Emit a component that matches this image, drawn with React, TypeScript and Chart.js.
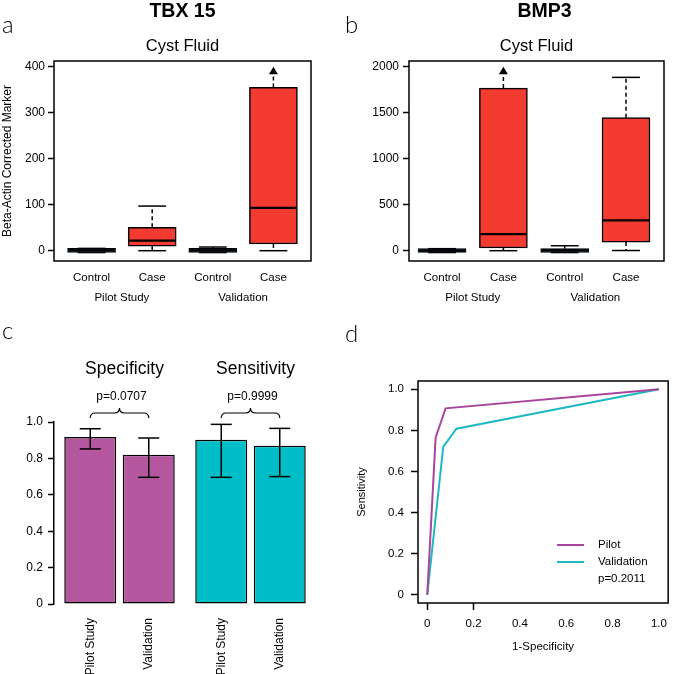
import React, { useEffect, useRef } from 'react';
import { Chart, registerables } from 'chart.js';

Chart.register(...registerables);

const FONT = "'Liberation Sans', Arial, Helvetica, sans-serif";
const LETTER_FONT = "300 24px Lato, 'Liberation Sans', Arial, sans-serif";
Chart.defaults.font.family = FONT;
Chart.defaults.color = '#000';

// ---------------- data: panels a & b (box plots) ----------------
const boxCategories = ['Control', 'Case', 'Control', 'Case'];
const boxGroups = ['Pilot Study', 'Validation'];
const boxPositions = [1, 2, 3, 4];

// TBX 15 (values above the top tick run off the axis and end in an arrow)
const tbxLow = [-4, 0, -4, 0];
const tbxQ1 = [-4, 10, -4, 14.5];
const tbxMedian = [0.5, 22, 0.5, 93];
const tbxQ3 = [5, 51, 5, 355];
const tbxHigh = [5, 97, 8, 460];
const tbxTicks = [0, 100, 200, 300, 400];

// BMP3
const bmpLow = [-20, 0, -20, 2];
const bmpQ1 = [-20, 29, -20, 94];
const bmpMedian = [0, 181, 3, 330];
const bmpQ3 = [22, 1768, 22, 1446];
const bmpHigh = [22, 2300, 54, 1884];
const bmpTicks = [0, 500, 1000, 1500, 2000];

// ---------------- data: panel c (bars) ----------------
const rateCategories = ['Specificity', 'Sensitivity'];
const cohortLabels = ['Pilot Study', 'Validation'];
const pilotRate = [0.918, 0.903];
const pilotLow = [0.852, 0.696];
const pilotHigh = [0.963, 0.987];
const validationRate = [0.82, 0.87];
const validationLow = [0.696, 0.7];
const validationHigh = [0.912, 0.965];
const rateP = ['p=0.0707', 'p=0.9999'];
const rateTicks = [0, 0.2, 0.4, 0.6, 0.8, 1.0];

// ---------------- data: panel d (ROC) ----------------
const rocLabels = ['Pilot', 'Validation'];
const pilotFpr = [0, 0.036, 0.079, 1];
const pilotTpr = [0, 0.764, 0.907, 1];
const validationFpr = [0, 0.069, 0.126, 1];
const validationTpr = [0, 0.719, 0.808, 1];
const rocP = 'p=0.2011';
const rocTicks = [0, 0.2, 0.4, 0.6, 0.8, 1.0];
const rocMarkedTicks = [0, 0.2];

// ---------------- colours ----------------
const RED = '#F43B31';
const NAVY = '#1C3B5A';
const BAR_PURPLE = '#B5579F';
const BAR_CYAN = '#00BEC7';
const LINE_PURPLE = '#A8449C';
const LINE_CYAN = '#1EB8C2';

const fmt1 = (v: number) => (v === 0 ? '0' : Number(v).toFixed(1));

function drawText(ctx: CanvasRenderingContext2D, s: string, x: number, y: number, font: string, align: CanvasTextAlign = 'center', baseline: CanvasTextBaseline = 'alphabetic') {
  ctx.save();
  ctx.font = font;
  ctx.fillStyle = '#000';
  ctx.textAlign = align;
  ctx.textBaseline = baseline;
  ctx.fillText(s, x, y);
  ctx.restore();
}

function line(ctx: CanvasRenderingContext2D, x1: number, y1: number, x2: number, y2: number) {
  ctx.beginPath();
  ctx.moveTo(x1, y1);
  ctx.lineTo(x2, y2);
  ctx.stroke();
}

type BoxSpec = {
  letter: string;
  letterX: number;
  title: string;
  titleX: number;
  low: number[];
  q1: number[];
  median: number[];
  q3: number[];
  high: number[];
  ticks: number[];
};

function boxExtras(spec: BoxSpec) {
  return {
    id: 'boxExtras',
    afterDatasetsDraw(chart: any) {
      const { ctx } = chart;
      const y = chart.scales.y;
      const meta = chart.getDatasetMeta(0);
      const topTick = spec.ticks[spec.ticks.length - 1];
      ctx.save();
      ctx.strokeStyle = '#000';
      ctx.fillStyle = '#000';
      spec.median.forEach((m: number, i: number) => {
        const el = meta.data[i];
        const cx = el.x;
        const half = el.width / 2;
        const staple = half * 0.58;
        ctx.setLineDash([]);
        ctx.lineWidth = 2.2;
        const ym = y.getPixelForValue(m);
        line(ctx, cx - half + 1, ym, cx + half - 1, ym);
        ctx.lineWidth = 1.5;
        const yq3 = y.getPixelForValue(spec.q3[i]);
        const yq1 = y.getPixelForValue(spec.q1[i]);
        if (spec.high[i] > topTick) {
          const tip = y.getPixelForValue(topTick);
          ctx.setLineDash([4, 3]);
          line(ctx, cx, yq3, cx, tip + 9);
          ctx.setLineDash([]);
          ctx.beginPath();
          ctx.moveTo(cx, tip);
          ctx.lineTo(cx - 4.5, tip + 7.5);
          ctx.lineTo(cx + 4.5, tip + 7.5);
          ctx.closePath();
          ctx.fill();
        } else {
          const yh = y.getPixelForValue(spec.high[i]);
          if (spec.high[i] > spec.q3[i]) {
            ctx.setLineDash([4, 3]);
            line(ctx, cx, yq3, cx, yh);
          }
          ctx.setLineDash([]);
          line(ctx, cx - staple, yh, cx + staple, yh);
        }
        const yl = y.getPixelForValue(spec.low[i]);
        if (spec.low[i] < spec.q1[i]) {
          ctx.setLineDash([4, 3]);
          line(ctx, cx, yq1, cx, yl);
        }
        ctx.setLineDash([]);
        line(ctx, cx - staple, yl, cx + staple, yl);
      });
      ctx.restore();
    },
    afterDraw(chart: any) {
      const { ctx, chartArea: ca } = chart;
      const x = chart.scales.x;
      ctx.save();
      ctx.strokeStyle = '#000';
      ctx.lineWidth = 1.5;
      ctx.strokeRect(ca.left, ca.top, ca.right - ca.left, ca.bottom - ca.top);
      ctx.restore();
      drawText(ctx, spec.letter, spec.letterX, 33, LETTER_FONT, 'left');
      drawText(ctx, spec.title, spec.titleX, 17, `bold 19.5px ${FONT}`);
      drawText(ctx, 'Cyst Fluid', (ca.left + ca.right) / 2, 51, `16.5px ${FONT}`);
      boxGroups.forEach((g, gi) => {
        const a = x.getPixelForValue(boxPositions[gi * 2]);
        const b = x.getPixelForValue(boxPositions[gi * 2 + 1]);
        drawText(ctx, g, (a + b) / 2, 298, `11.5px ${FONT}`, 'center', 'middle');
      });
    },
  };
}

function makeBoxChart(canvas: HTMLCanvasElement, spec: BoxSpec, opts: { padLeft: number; padRight: number; yWidth: number; xMin: number; xMax: number; yMin: number; yMax: number; yTitle?: string; tickPad: number }) {
  const colors = boxCategories.map((c) => (c === 'Control' ? NAVY : RED));
  const widths = boxCategories.map((c) => (c === 'Control' ? 1 : 1.5));
  return new Chart(canvas, {
    type: 'bar',
    data: {
      datasets: [
        {
          data: boxPositions.map((p, i) => ({ x: p, y: [spec.q1[i], spec.q3[i]] })) as any,
          backgroundColor: colors,
          borderColor: '#000',
          borderWidth: widths,
          borderSkipped: false,
          barThickness: 48,
        } as any,
      ],
    },
    options: {
      responsive: false,
      animation: false,
      devicePixelRatio: 1,
      events: [],
      layout: { padding: { left: opts.padLeft, top: 61, right: opts.padRight, bottom: 363 } },
      plugins: { legend: { display: false }, tooltip: { enabled: false } },
      scales: {
        x: {
          type: 'linear',
          min: opts.xMin,
          max: opts.xMax,
          offset: false,
          grid: { display: false, drawTicks: false },
          border: { display: false },
          afterBuildTicks: (s: any) => {
            s.ticks = boxPositions.map((v) => ({ value: v }));
          },
          afterFit: (s: any) => {
            s.height = 50;
          },
          ticks: {
            autoSkip: false,
            maxRotation: 0,
            minRotation: 0,
            padding: 10,
            font: { size: 11.5 },
            color: '#000',
            callback: (_v: any, i: number) => boxCategories[i],
          },
        } as any,
        y: {
          type: 'linear',
          min: opts.yMin,
          max: opts.yMax,
          afterBuildTicks: (s: any) => {
            s.ticks = spec.ticks.map((v) => ({ value: v }));
          },
          afterFit: (s: any) => {
            s.width = opts.yWidth;
          },
          grid: { drawOnChartArea: false, drawTicks: true, tickLength: 6, tickColor: '#000', tickWidth: 1.5 },
          border: { display: false },
          ticks: { padding: opts.tickPad, font: { size: 12 }, color: '#000', callback: (v: any) => String(v) },
          title: {
            display: !!opts.yTitle,
            text: opts.yTitle || '',
            font: { size: 12 },
            color: '#000',
            padding: 0,
          },
        } as any,
      },
    },
    plugins: [boxExtras(spec) as any],
  });
}

const rateExtras = {
  id: 'rateExtras',
  afterDatasetsDraw(chart: any) {
    const { ctx } = chart;
    const y = chart.scales.y;
    const lows = [pilotLow, validationLow];
    const highs = [pilotHigh, validationHigh];
    ctx.save();
    ctx.strokeStyle = '#000';
    ctx.lineWidth = 1.5;
    [0, 1].forEach((d) => {
      const meta = chart.getDatasetMeta(d);
      meta.data.forEach((el: any, j: number) => {
        const yl = y.getPixelForValue(lows[d][j]);
        const yh = y.getPixelForValue(highs[d][j]);
        line(ctx, el.x, yl, el.x, yh);
        line(ctx, el.x - 10.5, yl, el.x + 10.5, yl);
        line(ctx, el.x - 10.5, yh, el.x + 10.5, yh);
      });
    });
    ctx.restore();
  },
  afterDraw(chart: any) {
    const { ctx } = chart;
    const m0 = chart.getDatasetMeta(0);
    const m1 = chart.getDatasetMeta(1);
    drawText(ctx, 'c', 2, 339, LETTER_FONT, 'left');
    rateCategories.forEach((cat, j) => {
      const x1 = m0.data[j].x;
      const x2 = m1.data[j].x;
      const xm = (x1 + x2) / 2;
      drawText(ctx, cat, xm + 5, 374, `17.5px ${FONT}`);
      drawText(ctx, rateP[j], xm + 2, 397, `12px ${FONT}`, 'center', 'middle');
      // curly brace
      const yb = 418;
      const yh = 413;
      const yt = 408;
      ctx.save();
      ctx.strokeStyle = '#000';
      ctx.lineWidth = 1.2;
      ctx.beginPath();
      ctx.moveTo(x1, yb);
      ctx.quadraticCurveTo(x1, yh, x1 + 5, yh);
      ctx.lineTo(xm - 5, yh);
      ctx.quadraticCurveTo(xm, yh, xm, yt);
      ctx.quadraticCurveTo(xm, yh, xm + 5, yh);
      ctx.lineTo(x2 - 5, yh);
      ctx.quadraticCurveTo(x2, yh, x2, yb);
      ctx.stroke();
      ctx.restore();
    });
    [m0, m1].forEach((meta: any, d: number) => {
      meta.data.forEach((el: any) => {
        ctx.save();
        ctx.translate(el.x, 618);
        ctx.rotate(-Math.PI / 2);
        ctx.font = `12px ${FONT}`;
        ctx.fillStyle = '#000';
        ctx.textAlign = 'right';
        ctx.textBaseline = 'middle';
        ctx.fillText(cohortLabels[d], 0, 0);
        ctx.restore();
      });
    });
  },
};

const rocExtras = {
  id: 'rocExtras',
  afterDraw(chart: any) {
    const { ctx, chartArea: ca } = chart;
    ctx.save();
    ctx.strokeStyle = '#000';
    ctx.lineWidth = 1.5;
    ctx.strokeRect(ca.left, ca.top, ca.right - ca.left, ca.bottom - ca.top);
    ctx.lineWidth = 2;
    ctx.strokeStyle = LINE_PURPLE;
    line(ctx, 557, 545, 584, 545);
    ctx.strokeStyle = LINE_CYAN;
    line(ctx, 557, 562, 584, 562);
    ctx.restore();
    drawText(ctx, 'd', 345, 342, LETTER_FONT, 'left');
    drawText(ctx, rocLabels[0], 598, 545, `11.5px ${FONT}`, 'left', 'middle');
    drawText(ctx, rocLabels[1], 598, 562, `11.5px ${FONT}`, 'left', 'middle');
    drawText(ctx, rocP, 598, 579, `11.5px ${FONT}`, 'left', 'middle');
  },
};

function makeRateChart(canvas: HTMLCanvasElement) {
  const colors = [BAR_PURPLE, BAR_CYAN];
  const common = {
    backgroundColor: colors,
    borderColor: '#000',
    borderWidth: 1.5,
    borderSkipped: false,
    categoryPercentage: 0.893,
    barPercentage: 0.889,
  };
  return new Chart(canvas, {
    type: 'bar',
    data: {
      labels: rateCategories,
      datasets: [
        { label: cohortLabels[0], data: pilotRate, ...common } as any,
        { label: cohortLabels[1], data: validationRate, ...common } as any,
      ],
    },
    options: {
      responsive: false,
      animation: false,
      devicePixelRatio: 1,
      events: [],
      layout: { padding: { left: 0, top: 422, right: 358, bottom: 70 } },
      plugins: { legend: { display: false }, tooltip: { enabled: false } },
      scales: {
        x: { display: false },
        y: {
          min: 0,
          max: 1,
          afterBuildTicks: (s: any) => {
            s.ticks = rateTicks.map((v) => ({ value: v }));
          },
          afterFit: (s: any) => {
            s.width = 54;
          },
          grid: { drawOnChartArea: false, drawTicks: true, tickLength: 6, tickColor: '#000', tickWidth: 1.5 },
          border: { display: true, color: '#000', width: 1.5 },
          ticks: { padding: 5, font: { size: 12 }, color: '#000', callback: (v: any) => fmt1(v) },
        } as any,
      },
    },
    plugins: [rateExtras as any],
  });
}

function makeRocChart(canvas: HTMLCanvasElement) {
  return new Chart(canvas, {
    type: 'line',
    data: {
      datasets: [
        {
          label: rocLabels[0],
          data: pilotFpr.map((x, i) => ({ x, y: pilotTpr[i] })),
          borderColor: LINE_PURPLE,
          borderWidth: 2,
          pointRadius: 0,
          tension: 0,
          fill: false,
        },
        {
          label: rocLabels[1],
          data: validationFpr.map((x, i) => ({ x, y: validationTpr[i] })),
          borderColor: LINE_CYAN,
          borderWidth: 2,
          pointRadius: 0,
          tension: 0,
          fill: false,
        },
      ],
    },
    options: {
      responsive: false,
      animation: false,
      devicePixelRatio: 1,
      events: [],
      layout: { padding: { left: 354, top: 381, right: 3, bottom: 19 } },
      plugins: { legend: { display: false }, tooltip: { enabled: false } },
      scales: {
        x: {
          type: 'linear',
          min: -0.04,
          max: 1.04,
          afterBuildTicks: (s: any) => {
            s.ticks = rocTicks.map((v) => ({ value: v }));
          },
          afterFit: (s: any) => {
            s.height = 52;
          },
          grid: {
            drawOnChartArea: false,
            drawTicks: true,
            tickLength: 7,
            tickWidth: 1.5,
            tickColor: (c: any) => (c.tick && rocMarkedTicks.includes(c.tick.value) ? '#000' : 'rgba(0,0,0,0)'),
          },
          border: { display: false },
          ticks: { padding: 7, font: { size: 11.5 }, color: '#000', maxRotation: 0, autoSkip: false, callback: (v: any) => fmt1(v) },
          title: { display: true, text: '1-Specificity', font: { size: 11.5 }, color: '#000', padding: { top: 0, bottom: 1.4 } },
        } as any,
        y: {
          type: 'linear',
          min: -0.04,
          max: 1.04,
          afterBuildTicks: (s: any) => {
            s.ticks = rocTicks.map((v) => ({ value: v }));
          },
          afterFit: (s: any) => {
            s.width = 64;
          },
          grid: { drawOnChartArea: false, drawTicks: true, tickLength: 7, tickWidth: 1.5, tickColor: '#000' },
          border: { display: false },
          ticks: { padding: 7, font: { size: 11.5 }, color: '#000', callback: (v: any) => fmt1(v) },
          title: { display: true, text: 'Sensitivity', font: { size: 11 }, color: '#000', padding: { top: 1.4, bottom: 0 } },
        } as any,
      },
    },
    plugins: [rocExtras as any],
  });
}

function Layer({ make }: { make: (c: HTMLCanvasElement) => Chart }) {
  const ref = useRef<HTMLCanvasElement>(null);
  useEffect(() => {
    const chart = make(ref.current as HTMLCanvasElement);
    return () => chart.destroy();
  }, []);
  return (
    <canvas
      ref={ref}
      width={674}
      height={674}
      style={{ position: 'absolute', left: 0, top: 0, width: 674, height: 674 }}
    />
  );
}

const tbxSpec: BoxSpec = {
  letter: 'a',
  letterX: 2,
  title: 'TBX 15',
  titleX: 182.5,
  low: tbxLow,
  q1: tbxQ1,
  median: tbxMedian,
  q3: tbxQ3,
  high: tbxHigh,
  ticks: tbxTicks,
};

const bmpSpec: BoxSpec = {
  letter: 'b',
  letterX: 345,
  title: 'BMP3',
  titleX: 544.5,
  low: bmpLow,
  q1: bmpQ1,
  median: bmpMedian,
  q3: bmpQ3,
  high: bmpHigh,
  ticks: bmpTicks,
};

export default function App() {
  return (
    <div style={{ position: 'absolute', left: 0, top: 0, width: 674, height: 674, background: '#fff' }}>
      <Layer
        make={(c) =>
          makeBoxChart(c, tbxSpec, {
            padLeft: 0,
            padRight: 363,
            yWidth: 54,
            xMin: 0.38,
            xMax: 4.62,
            yMin: -22.4,
            yMax: 412.4,
            yTitle: 'Beta-Actin Corrected Marker',
            tickPad: 3,
          })
        }
      />
      <Layer
        make={(c) =>
          makeBoxChart(c, bmpSpec, {
            padLeft: 359,
            padRight: 10,
            yWidth: 50,
            xMin: 0.46,
            xMax: 4.62,
            yMin: -112,
            yMax: 2062,
            tickPad: 4,
          })
        }
      />
      <Layer make={makeRateChart} />
      <Layer make={makeRocChart} />
    </div>
  );
}
